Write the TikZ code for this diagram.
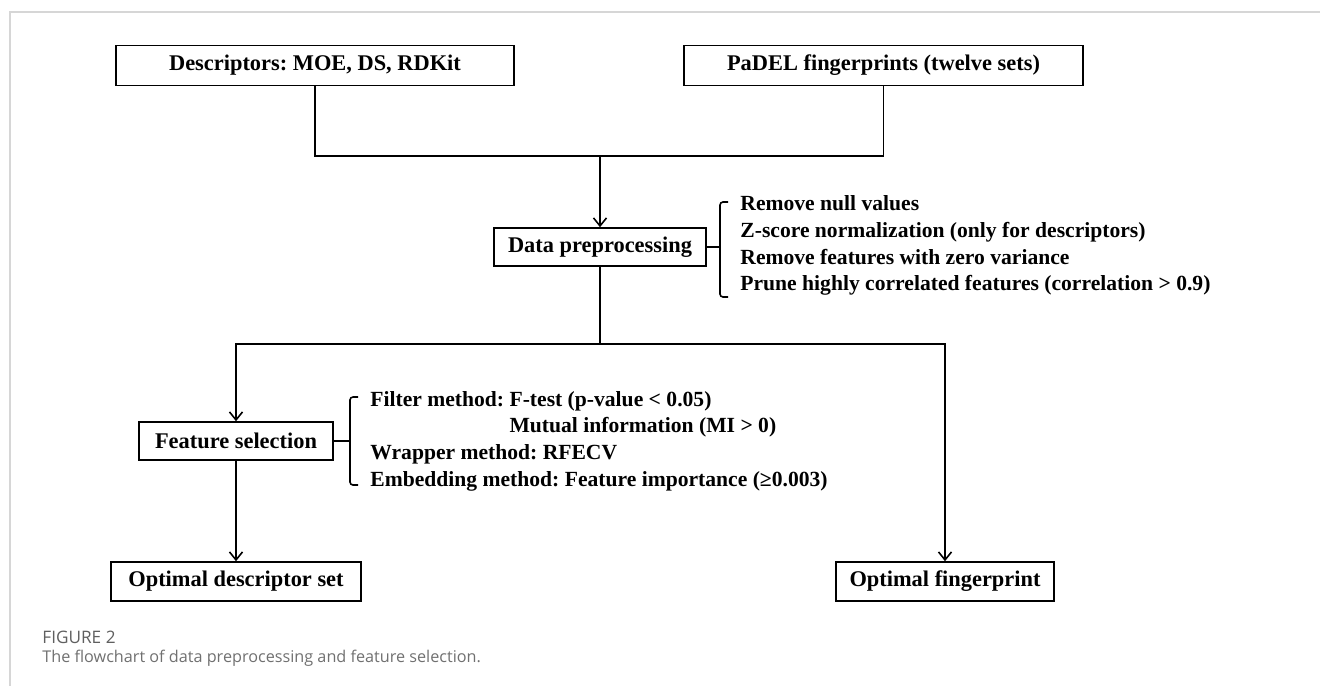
\documentclass[tikz,border=0pt]{standalone}
\usepackage{fontspec}
\setmainfont{Liberation Serif}
\newfontfamily\capfont{Open Sans}
\usetikzlibrary{arrows.meta}
\definecolor{capgray}{RGB}{112,112,112}
\definecolor{framegray}{RGB}{214,214,214}
\frenchspacing

\begin{document}
\begin{tikzpicture}[x=0.5pt, y=-0.5pt,
   box/.style={draw, line width=0.8pt, minimum height=20pt, inner sep=0pt,
      font=\fontsize{11.2}{13.3}\selectfont\bfseries},
   note/.style={anchor=north west, align=left, inner sep=0pt,
      font=\fontsize{10.8}{13.3}\selectfont\bfseries},
   link/.style={line width=0.8pt},
   flow/.style={line width=0.8pt, -{Straight Barb[length=4pt, width=6.5pt]}},
   brace/.style={line width=0.8pt, rounded corners=1.5pt}]
\useasboundingbox (0,0) rectangle (1320,686);
\draw[framegray, line width=1pt] (1320,12) -- (10,12) -- (10,686);

\node[box, minimum width=199pt] (desc) at (315,65.5) {Descriptors: MOE, DS, RDKit};
\node[box, minimum width=199.5pt] (padel) at (883.5,65.5) {PaDEL fingerprints (twelve sets)};
\node[box, minimum width=106pt, minimum height=19pt] (prep) at (600,247) {Data preprocessing};
\node[box, minimum width=97pt, minimum height=19pt] (fsel) at (236,441) {Feature selection};
\node[box, minimum width=125pt, minimum height=19.5pt] (optd) at (236,581.5) {Optimal descriptor set};
\node[box, minimum width=109pt, minimum height=19.5pt] (optf) at (945,581.5) {Optimal fingerprint};

\coordinate (merge) at (600,156);
\coordinate (split) at (600,344);
\draw[link] (desc.south) |- (merge) -| (padel.south);
\draw[flow] (merge) -- (prep.north);
\draw[link] (prep.south) -- (split);
\draw[flow] (split) -| (fsel.north);
\draw[flow] (split) -| (optf.north);
\draw[flow] (fsel) -- (optd);

\coordinate (prepbr) at (720,247);
\draw[link] (prep.east) -- (prepbr);
\draw[brace] (728,202) -- (720,202) -- (720,297) -- (728,297);
\node[note] (prepsteps) at (740,195.5) {Remove null values\\
   Z-score normalization (only for descriptors)\\
   Remove features with zero variance\\
   Prune highly correlated features (correlation > 0.9)};

\coordinate (fselbr) at (350,441);
\draw[link] (fsel.east) -- (fselbr);
\draw[brace] (358,397) -- (350,397) -- (350,485) -- (358,485);
\node[note] (fselsteps) at (370,391) {Filter method: F-test (p-value < 0.05)\\
   \phantom{Filter method: }Mutual information (MI > 0)\\
   Wrapper method: RFECV\\
   Embedding method: Feature importance (≥0.003)};

\node[anchor=base west, inner sep=0pt, text=capgray!85!black,
   font=\capfont\fontsize{8.6}{9}\selectfont] (figlabel) at (42,643) {FIGURE 2};
\node[anchor=base west, inner sep=0pt, text=capgray,
   font=\capfont\fontsize{8.1}{10}\selectfont] (figcap) at (42,662) {The flowchart of data preprocessing and feature selection.};
\end{tikzpicture}
\end{document}
